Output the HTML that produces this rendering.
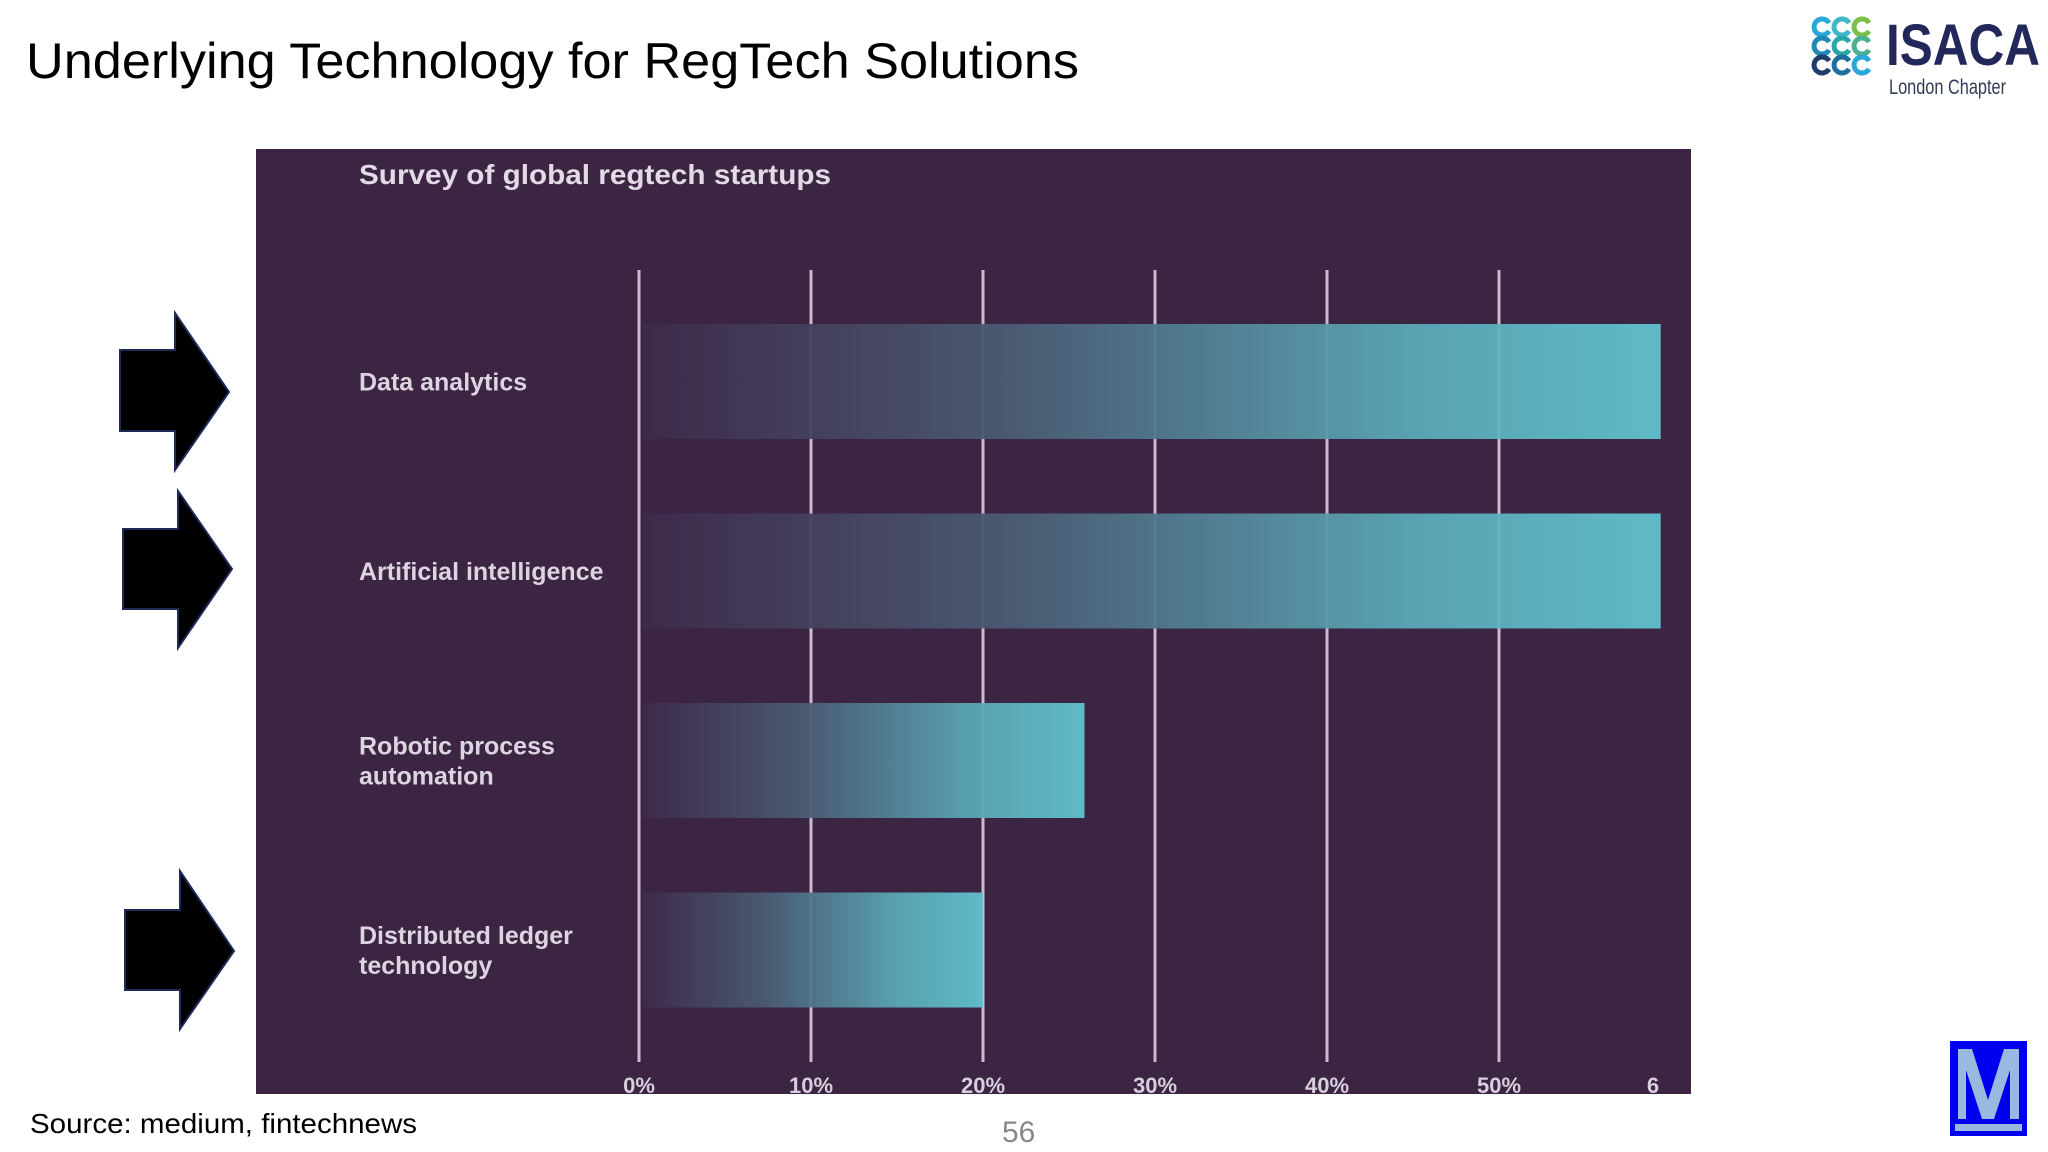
<!DOCTYPE html>
<html><head><meta charset="utf-8"><style>
html,body{margin:0;padding:0;background:#fff;}
svg{display:block;}
text{font-family:"Liberation Sans",sans-serif;}
</style></head><body>
<svg id="s" width="2048" height="1152" viewBox="0 0 2048 1152" xmlns="http://www.w3.org/2000/svg">
<defs>
<linearGradient id="barg" x1="0" x2="1" y1="0" y2="0">
<stop offset="0" stop-color="#3e2a4c"/>
<stop offset="0.35" stop-color="#4a5a72"/>
<stop offset="0.75" stop-color="#5aa8b6"/>
<stop offset="1" stop-color="#62c2ce"/>
</linearGradient>
</defs>
<text x="26" y="78" font-size="50" fill="#000" textLength="1053" lengthAdjust="spacingAndGlyphs">Underlying Technology for RegTech Solutions</text>
<g>
<g id="rings" fill="none" stroke-width="5"></g>
<text x="1886" y="65" font-size="58" font-weight="bold" fill="#22285a" textLength="154" lengthAdjust="spacingAndGlyphs">ISACA</text>
<text x="1889" y="94" font-size="21" fill="#333a55" textLength="117" lengthAdjust="spacingAndGlyphs">London Chapter</text>
</g>
<rect x="256" y="149" width="1435" height="945" fill="#3b2542"/>
<text x="359" y="184" font-size="28" font-weight="bold" fill="#e2dae6" textLength="472" lengthAdjust="spacingAndGlyphs">Survey of global regtech startups</text>
<g id="grid"></g>
<g id="bars"></g>
<g id="labels"></g>
<g id="ticks"></g>
<g><path d="M120 350H175V313L229 392L175 470V431H120Z" fill="#000" stroke="#1f2a5a" stroke-width="2"/></g>
<g><path d="M123 529H178V491L232 569L178 648V609H123Z" fill="#000" stroke="#1f2a5a" stroke-width="2"/></g>
<g><path d="M125 910H180V871L234 951L180 1029V990H125Z" fill="#000" stroke="#1f2a5a" stroke-width="2"/></g>
<text x="30" y="1133" font-size="28" fill="#000" textLength="387" lengthAdjust="spacingAndGlyphs">Source: medium, fintechnews</text>
<text x="1002" y="1142" font-size="30" fill="#888">56</text>
<g>
<rect x="1950" y="1041" width="77" height="95" fill="#0000ee"/>
<path d="M1958 1049H1972L1988 1100L2004 1049H2019V1119H2010V1070L1994 1119H1982L1966 1070V1119H1958Z" fill="#9ab8e0"/>
<rect x="1955" y="1124" width="67" height="7" fill="#9ab8e0"/>
</g>
</svg>
<script>
const categories=[["Data analytics"],["Artificial intelligence"],["Robotic process","automation"],["Distributed ledger","technology"]];
const values=[59.4,59.4,25.9,20];
const tickValues=[0,10,20,30,40,50,60];
const tickLabels=["0%","10%","20%","30%","40%","50%","6"];
const NS="http://www.w3.org/2000/svg";
const x=v=>639+v*17.2;
const barTop=i=>324+i*189.5;
const barH=115;
function mk(tag,attrs,parent){const e=document.createElementNS(NS,tag);for(const k in attrs)e.setAttribute(k,attrs[k]);parent.appendChild(e);return e;}
const grid=document.getElementById('grid'),bars=document.getElementById('bars'),labels=document.getElementById('labels'),ticks=document.getElementById('ticks');
tickValues.forEach((t,i)=>{
  if(t<60){const l=mk('line',{x1:x(t),x2:x(t),y1:270,y2:1062,stroke:'#c9bccf','stroke-width':3},grid);
  
  }
  const tx=mk('text',{x:t<60?x(t):1653,y:1093,'font-size':22,'font-weight':'bold',fill:'#d8cfdc','text-anchor':'middle'},ticks);
  tx.textContent=tickLabels[i];
  
  
});
values.forEach((v,i)=>{
  const r=mk('rect',{x:643,y:barTop(i),width:x(v)-643,height:barH,fill:'url(#barg)','fill-opacity':0.95},bars);
  
  
  const lines=categories[i];
  const cy=barTop(i)+barH/2+9;
  lines.forEach((s,j)=>{
    const t=mk('text',{x:359,y:cy+(j-(lines.length-1)/2)*30,'font-size':25,'font-weight':'bold',fill:'#ddd4e2'},labels);
    t.textContent=s;
    
    
  });
});
const rings=document.getElementById('rings');
const cols=[["#2aa6d8","#3fb8c8","#7cc04a"],["#1e88b8","#2aa6a8","#4ab090"],["#1f3d6a","#1e6ea0","#2aa6d8"]];
for(let r=0;r<3;r++)for(let c=0;c<3;c++){
  const cx=1822+c*20,cy=27+r*19;
  mk('path',{d:`M${cx+7} ${cy-4}A8 8 0 1 0 ${cx+7} ${cy+4}`,stroke:cols[r][c]},rings);
}
</script>
</body></html>
